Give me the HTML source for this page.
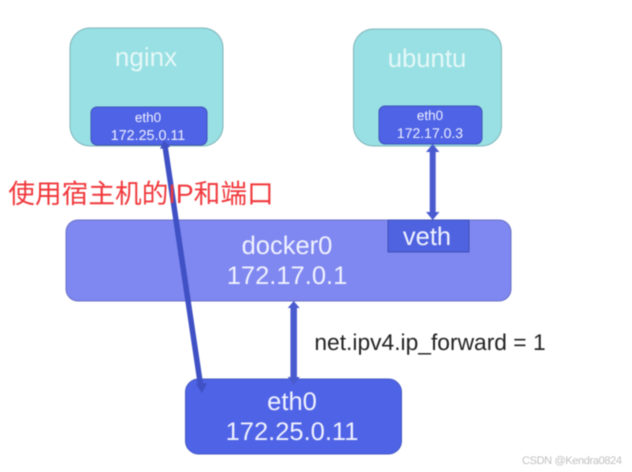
<!DOCTYPE html>
<html>
<head>
<meta charset="utf-8">
<style>
html,body{margin:0;padding:0;background:#fff}
body{width:632px;height:472px;overflow:hidden}
svg{display:block;filter:blur(0.45px)}
text{font-family:"Liberation Sans","Noto Sans CJK SC",sans-serif;text-anchor:middle;text-rendering:geometricPrecision}
</style>
</head>
<body>
<svg width="632" height="472" viewBox="0 0 632 472" xmlns="http://www.w3.org/2000/svg">
  <rect x="0" y="0" width="632" height="472" fill="#ffffff"/>

  <!-- nginx -->
  <rect x="70" y="28" width="153" height="118" rx="20" ry="20" fill="#98e0e3" stroke="#7fb5ba" stroke-width="1"/>
  <text x="146" y="66" font-size="26" fill="#e6f8f8">nginx</text>
  <rect x="91" y="107" width="116" height="38" rx="6" ry="6" fill="#4f63e6" stroke="#3f50b8" stroke-width="1"/>
  <text x="148" y="122" font-size="13.5" fill="#eef0ff">eth0</text>
  <text x="148" y="140" font-size="14.3" fill="#eef0ff">172.25.0.11</text>

  <!-- ubuntu -->
  <rect x="353.500" y="29" width="148" height="117" rx="20" ry="20" fill="#98e0e3" stroke="#7fb5ba" stroke-width="1"/>
  <text x="427" y="67" font-size="25.7" fill="#e6f8f8">ubuntu</text>
  <rect x="379" y="106" width="103" height="38" rx="6" ry="6" fill="#4f63e6" stroke="#3f50b8" stroke-width="1"/>
  <text x="430" y="120" font-size="13.5" fill="#eef0ff">eth0</text>
  <text x="430" y="138" font-size="14" fill="#eef0ff">172.17.0.3</text>

  <!-- docker0 -->
  <rect x="66" y="220" width="445" height="81" rx="12" ry="12" fill="#7f87f0" stroke="#6a72c8" stroke-width="1"/>
  <text x="287" y="254" font-size="25.5" fill="#f0f2ff">docker0</text>
  <text x="287" y="284" font-size="25.5" fill="#f0f2ff">172.17.0.1</text>

  <!-- veth -->
  <rect x="388" y="220" width="81" height="32" fill="#4f63e0" stroke="#3f50b8" stroke-width="1"/>
  <text x="427" y="245" font-size="25.5" fill="#f0f2ff">veth</text>

  <!-- eth0 host -->
  <rect x="185.500" y="379" width="216" height="75" rx="13" ry="13" fill="#4f63e6" stroke="#4458c4" stroke-width="1"/>
  <text x="292" y="410" font-size="25.5" fill="#f0f2ff">eth0</text>
  <text x="292" y="440" font-size="25.5" fill="#f0f2ff">172.25.0.11</text>

  <!-- nginx to host arrow -->
  <line x1="165" y1="146" x2="201" y2="388" stroke="#3f51c4" stroke-width="5.500"/>
  <polygon points="160,149 170,147 164,140" fill="#3f51c4"/>
  <polygon points="196,384 207,383 202,393" fill="#3f51c4"/>

  <!-- ubuntu to veth arrow -->
  <line x1="432.700" y1="150" x2="432.700" y2="214" stroke="#4a5bd0" stroke-width="6"/>
  <polygon points="426,152 439.400,152 432.700,144" fill="#4a5bd0"/>
  <polygon points="426,212 439.400,212 432.700,220" fill="#4a5bd0"/>

  <!-- docker0 to host arrow -->
  <line x1="293.700" y1="307" x2="293.700" y2="378" stroke="#4a5bd0" stroke-width="6.500"/>
  <polygon points="287.700,308 299.700,308 293.700,301" fill="#4a5bd0"/>
  <polygon points="287.700,377 299.700,377 293.700,385" fill="#4a5bd0"/>

  <!-- labels -->
  <text x="141" y="203" font-size="26.7" fill="#f0383c">使用宿主机的IP和端口</text>
  <text x="430" y="350" font-size="22.800" fill="#222222">net.ipv4.ip_forward = 1</text>
  <text x="572" y="464" font-size="11" fill="#c0c0c0" textLength="100" lengthAdjust="spacing">CSDN @Kendra0824</text>
</svg>
</body>
</html>
